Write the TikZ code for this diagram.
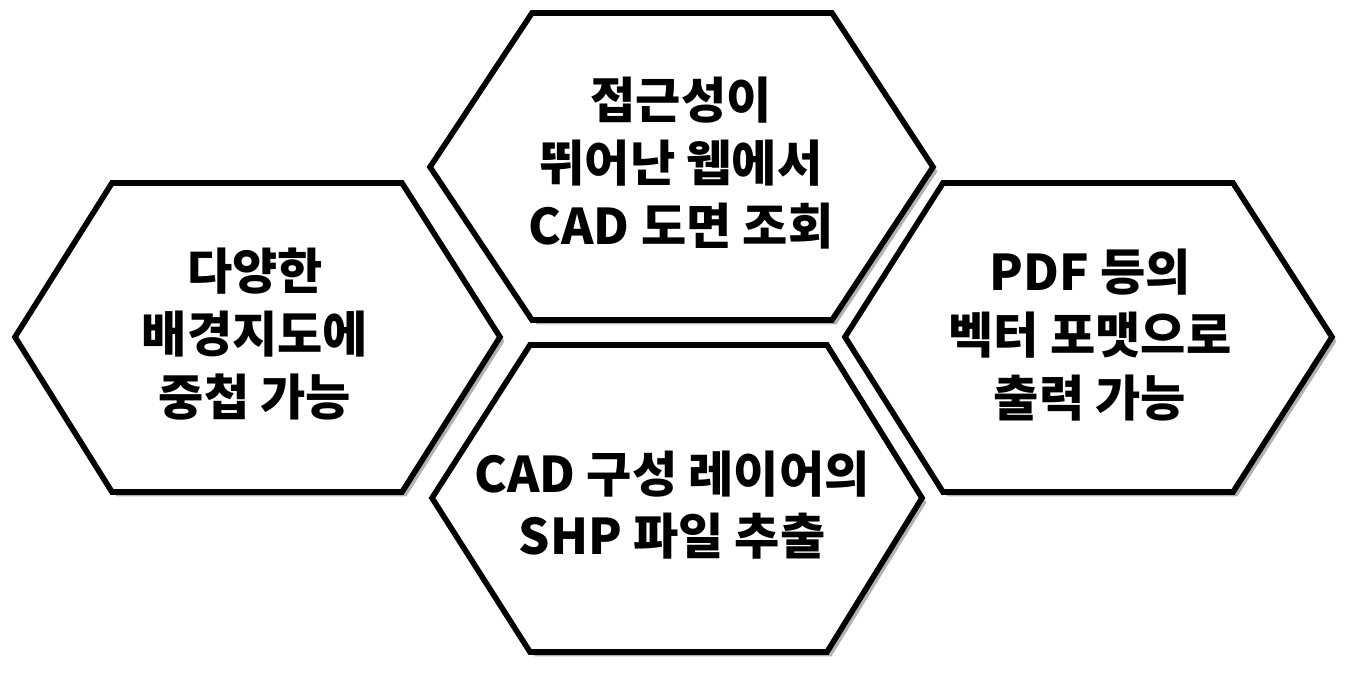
\documentclass[tikz,border=0pt]{standalone}
\usepackage{fontspec}
\setmainfont{Noto Sans CJK KR}
\usetikzlibrary{shadows}

\tikzset{
  hexa/.style = {draw = black, line width = 3.2pt, line join = miter, fill = white,
    drop shadow = {shadow xshift = 2.5pt, shadow yshift = -2.5pt, fill = black, opacity = 0.3}},
  label text/.style = {align = center, font = \bfseries\fontsize{28}{35.7}\selectfont}
}

\begin{document}
\begin{tikzpicture}[x = 0.02cm, y = -0.02cm]
    \useasboundingbox (0, 0) rectangle (1371, 684);
    \draw[hexa] (15, 337) -- (112, 183) -- (402, 183) -- (500, 337) -- (402, 492) -- (112, 492) -- cycle;
    \draw[hexa] (430, 167) -- (532, 13) -- (832, 13) -- (933, 167) -- (832, 320) -- (532, 320) -- cycle;
    \draw[hexa] (432, 498) -- (530, 345) -- (827, 345) -- (922, 498) -- (827, 652) -- (530, 652) -- cycle;
    \draw[hexa] (845, 337) -- (943, 183) -- (1233, 183) -- (1332, 337) -- (1233, 492) -- (943, 492) -- cycle;
    \node[label text] (Overlay) at (255, 334) {다양한\\배경지도에\\중첩 가능};
    \node[label text] (Web View) at (681, 163) {접근성이\\뛰어난 웹에서\\CAD 도면 조회};
    \node[label text] (SHP Export) at (672, 505) {CAD 구성 레이어의\\SHP 파일 추출};
    \node[label text] (Vector Output) at (1090, 335) {PDF 등의\\벡터 포맷으로\\출력 가능};
\end{tikzpicture}
\end{document}
